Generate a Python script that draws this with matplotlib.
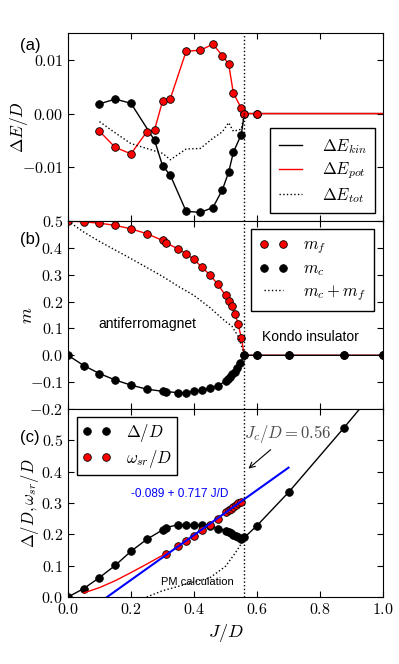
import numpy as np
import matplotlib
matplotlib.use('Agg')
import matplotlib.pyplot as plt
from matplotlib.ticker import FuncFormatter

plt.rcParams['mathtext.fontset'] = 'cm'
plt.rcParams['font.family'] = ['Liberation Sans', 'DejaVu Sans']
plt.rcParams['xtick.direction'] = 'in'
plt.rcParams['ytick.direction'] = 'in'
plt.rcParams['xtick.top'] = True
plt.rcParams['ytick.right'] = True

Jc = 0.56

# panel (a): energy differences
x_kin = [0.1, 0.15, 0.2, 0.275, 0.3, 0.325, 0.375, 0.42, 0.46, 0.49, 0.51, 0.525, 0.55, 0.56, 0.6, 1.2]
e_kin = [0.0018, 0.0027, 0.0019, -0.0050, -0.0097, -0.0115, -0.0182, -0.0184, -0.0175, -0.0142, -0.0109, -0.0072, -0.0039, 0.0, 0.0, 0.0]
x_pot = [0.1, 0.15, 0.2, 0.25, 0.275, 0.3, 0.325, 0.375, 0.42, 0.46, 0.49, 0.51, 0.525, 0.55, 0.56, 0.6, 1.2]
e_pot = [-0.0033, -0.0063, -0.0075, -0.0034, -0.0030, 0.0023, 0.0028, 0.0116, 0.0118, 0.0129, 0.0108, 0.0092, 0.0038, 0.0010, 0.0, 0.0, 0.0]
x_tot = [0.1, 0.15, 0.2, 0.3, 0.325, 0.375, 0.42, 0.46, 0.49, 0.51, 0.525, 0.55, 0.56]
e_tot = [-0.0015, -0.0036, -0.0056, -0.0074, -0.0086, -0.0066, -0.0065, -0.0046, -0.0034, -0.0017, -0.0033, -0.0029, 0.0]

# panel (b): magnetizations
x_mf = [0.0, 0.05, 0.1, 0.15, 0.2, 0.25, 0.3, 0.31, 0.35, 0.375, 0.4, 0.425, 0.45, 0.475,
        0.5, 0.51, 0.52, 0.53, 0.54, 0.55, 0.56, 0.6, 0.7, 0.875, 1.0]
m_f = [0.5, 0.497, 0.492, 0.484, 0.471, 0.453, 0.428, 0.419, 0.396, 0.378, 0.357, 0.328, 0.300, 0.265,
       0.223, 0.204, 0.184, 0.153, 0.118, 0.065, 0.0, 0.0, 0.0, 0.0, 0.0]
x_mc = [0.0, 0.05, 0.1, 0.15, 0.2, 0.25, 0.3, 0.31, 0.35, 0.375, 0.4, 0.425, 0.45, 0.475,
        0.5, 0.507, 0.515, 0.522, 0.53, 0.538, 0.547, 0.56, 0.6, 0.7, 0.875, 1.0]
m_c = [0.0, -0.038, -0.068, -0.092, -0.111, -0.126, -0.134, -0.135, -0.139, -0.139, -0.134, -0.129, -0.122, -0.113,
       -0.097, -0.088, -0.079, -0.071, -0.061, -0.047, -0.028, 0.0, 0.0, 0.0, 0.0, 0.0]
x_msum = [0.0, 0.05, 0.1, 0.15, 0.2, 0.25, 0.3, 0.35, 0.4, 0.45, 0.5, 0.52, 0.54, 0.55, 0.56]
m_sum = [0.5, 0.459, 0.424, 0.392, 0.360, 0.327, 0.294, 0.257, 0.223, 0.178, 0.126, 0.109, 0.071, 0.037, 0.0]

# panel (c): gaps
x_gap = [0.0, 0.05, 0.1, 0.15, 0.2, 0.25, 0.3, 0.31, 0.35, 0.375, 0.4, 0.425, 0.45, 0.475,
         0.5, 0.51, 0.518, 0.525, 0.533, 0.54, 0.548, 0.56, 0.6, 0.7, 0.875, 1.0]
gap = [0.0, 0.027, 0.062, 0.101, 0.146, 0.184, 0.214, 0.221, 0.231, 0.231, 0.231, 0.230, 0.228, 0.218,
       0.212, 0.207, 0.203, 0.199, 0.195, 0.190, 0.186, 0.190, 0.228, 0.334, 0.539, 0.69]
x_wsr = [0.31, 0.35, 0.375, 0.4, 0.425, 0.45, 0.475, 0.5, 0.51, 0.518, 0.525, 0.533, 0.54, 0.548]
w_sr = [0.138, 0.162, 0.179, 0.196, 0.213, 0.231, 0.250, 0.270, 0.277, 0.282, 0.287, 0.294, 0.299, 0.304]
x_wcurve = [0.05, 0.1, 0.15, 0.2, 0.25, 0.3, 0.31]
w_curve = [0.013, 0.030, 0.052, 0.078, 0.105, 0.133, 0.138]
x_pm = [0.25, 0.3, 0.35, 0.4, 0.45, 0.5, 0.53, 0.55, 0.56]
pm = [0.0, 0.02, 0.034, 0.048, 0.061, 0.098, 0.139, 0.17, 0.19]
fit_a, fit_b = -0.089, 0.717
x_fit = np.array([0.1, 0.7])

fig = plt.figure(figsize=(3.99, 6.64), dpi=100)
L, W, H = 0.1704, 0.7896, 0.2831
ax1 = fig.add_axes([L, 0.6672, W, H])
ax2 = fig.add_axes([L, 0.3840, W, H])
ax3 = fig.add_axes([L, 0.1009, W, H])

mk = dict(marker='o', ms=5.5, mec='k', mew=0.6)
leg = dict(fontsize=12, fancybox=False, edgecolor='k', framealpha=1, borderaxespad=0,
           handlelength=1.4, handletextpad=1.2, borderpad=0.5, labelspacing=0.3)
legm = dict(leg, handlelength=1.75, handletextpad=0.9, numpoints=2)

def fmt(n):
    return FuncFormatter(lambda v, p: '$%.*f$' % (n, 0.0 if abs(v) < 1e-12 else v))

def dot(c):
    return plt.Line2D([], [], ls='none', marker='o', ms=5.5, mfc=c, mec='k', mew=0.6)

# (a)
ax1.plot(x_kin, e_kin, 'k-', lw=1, mfc='k', **mk)
ax1.plot(x_pot, e_pot, 'r-', lw=1, mfc='r', **mk)
ax1.plot(x_tot, e_tot, 'k:', lw=1)
h1 = [plt.Line2D([], [], color='k', lw=1), plt.Line2D([], [], color='r', lw=1),
      plt.Line2D([], [], color='k', ls=':', lw=1)]
ax1.legend(h1, [r'$\Delta E_{kin}$', r'$\Delta E_{pot}$', r'$\Delta E_{tot}$'],
           loc='lower right', bbox_to_anchor=(0.975, 0.04), **leg)
ax1.set_ylim(-0.02, 0.015)
ax1.set_yticks([-0.01, 0.0, 0.01])
ax1.yaxis.set_major_formatter(fmt(2))
ax1.set_ylabel(r'$\Delta E/D$', fontsize=12.5)
ax1.yaxis.set_label_coords(-0.12, 0.5)
ax1.text(-0.12, 0.936, '(a)', transform=ax1.transAxes, fontsize=12, ha='center', va='center')

# (b)
ax2.plot(x_mf, m_f, 'r-', lw=1, mfc='r', **mk)
ax2.plot(x_mc, m_c, 'k-', lw=1, mfc='k', **mk)
ax2.plot(x_msum, m_sum, 'k:', lw=1)
h2 = [dot('r'), dot('k'), plt.Line2D([], [], color='k', ls=':', lw=1)]
ax2.legend(h2, [r'$m_f$', r'$m_c$', r'$m_c+m_f$'], loc='upper right',
           bbox_to_anchor=(0.972, 0.956), **legm)
ax2.set_ylim(-0.2, 0.5)
ax2.set_yticks([-0.2, -0.1, 0.0, 0.1, 0.2, 0.3, 0.4, 0.5])
ax2.yaxis.set_major_formatter(fmt(1))
ax2.set_ylabel(r'$m$', fontsize=13)
ax2.yaxis.set_label_coords(-0.1, 0.5)
ax2.text(0.253, 0.115, 'antiferromagnet', ha='center', va='center', fontsize=10)
ax2.text(0.77, 0.067, 'Kondo insulator', ha='center', va='center', fontsize=10)
ax2.text(-0.12, 0.904, '(b)', transform=ax2.transAxes, fontsize=12, ha='center', va='center')

# (c)
ax3.plot(x_gap, gap, 'k-', lw=1, mfc='k', **mk)
ax3.plot(x_wsr, w_sr, ls='none', mfc='r', **mk)
ax3.plot(x_wcurve, w_curve, 'r-', lw=1)
ax3.plot(x_fit, fit_a + fit_b * x_fit, 'b-', lw=1.5)
ax3.plot(x_pm, pm, 'k:', lw=1)
ax3.legend([dot('k'), dot('r')], [r'$\Delta/D$', r'$\omega_{sr}/D$'], loc='upper left',
           bbox_to_anchor=(0.028, 0.957), **dict(legm, borderpad=0.3, labelspacing=0.25))
ax3.text(0.355, 0.328, '-0.089 + 0.717 J/D', color='b', ha='center', va='center', fontsize=8.5)
ax3.text(0.412, 0.048, 'PM calculation', ha='center', va='center', fontsize=8)
ax3.text(0.56, 0.519, r'$J_c/D=0.56$', color='0.3', ha='left', va='center', fontsize=12)
ax3.annotate('', xy=(0.566, 0.404), xytext=(0.65, 0.476),
             arrowprops=dict(arrowstyle='->', color='k', lw=0.8))
ax3.set_ylim(0, 0.6)
ax3.set_yticks([0.0, 0.1, 0.2, 0.3, 0.4, 0.5])
ax3.yaxis.set_major_formatter(fmt(1))
ax3.set_ylabel(r'$\Delta/D,\omega_{sr}/D$', fontsize=12)
ax3.yaxis.set_label_coords(-0.086, 0.5)
ax3.set_xlabel(r'$J/D$', fontsize=13)
ax3.text(-0.12, 0.851, '(c)', transform=ax3.transAxes, fontsize=12, ha='center', va='center')

for ax in (ax1, ax2, ax3):
    ax.axvline(Jc, color='k', ls=':', lw=1)
    ax.set_xlim(0, 1.0)
    ax.set_xticks(np.arange(0, 1.01, 0.2))
    ax.tick_params(length=4, width=0.8, labelsize=11.5)
ax1.set_xticklabels([])
ax2.set_xticklabels([])
ax3.xaxis.set_major_formatter(fmt(1))

fig.savefig('out.png', dpi=100)
